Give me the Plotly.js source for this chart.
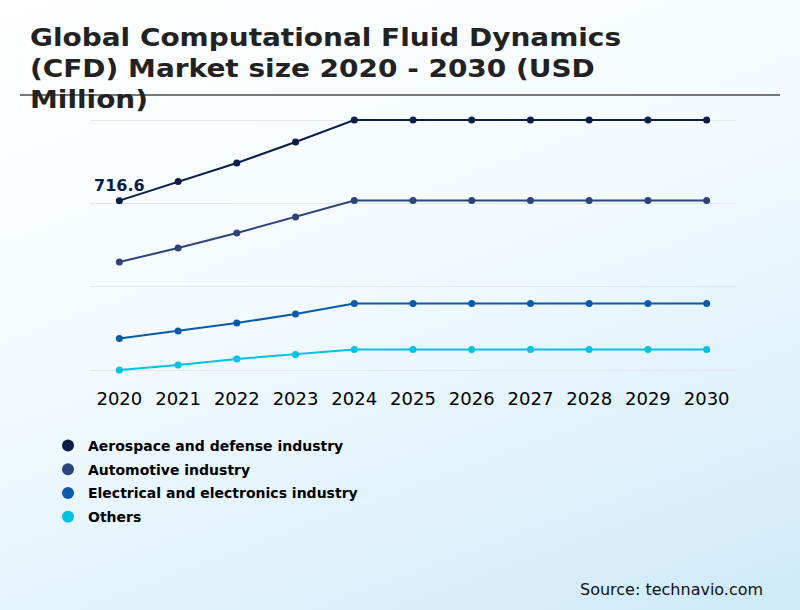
<!DOCTYPE html>
<html>
<head>
<meta charset="utf-8">
<script src="https://cdn.plot.ly/plotly-3.0.1.min.js"></script>
<style>
  html, body { margin: 0; padding: 0; }
  body { background: linear-gradient(160deg, #ffffff 0%, #f3fafe 45%, #cdeaf8 100%); }
  #chart { width: 800px; height: 610px; }
  /* the title glyphs in the picture are drawn wide */
  #chart .gtitle { transform: scaleX(1.165); transform-origin: 30px 0; }
</style>
</head>
<body>
<div id="chart"></div>
<script>
// values (USD million)
const years = [2020, 2021, 2022, 2023, 2024, 2025, 2026, 2027, 2028, 2029, 2030];
const aerospace  = [716.6, 774, 829.5, 892.5, 958.5, 958.5, 958.5, 958.5, 958.5, 958.5, 958.5];
const automotive = [532.5, 574.5, 619.5, 667.5, 717, 717, 717, 717, 717, 717, 717];
const electrical = [303, 325.5, 349.5, 376.5, 408, 408, 408, 408, 408, 408, 408];
const others     = [208.5, 223.5, 241.5, 255, 270, 270, 270, 270, 270, 270, 270];

const seriesNames  = ['Aerospace and defense industry', 'Automotive industry', 'Electrical and electronics industry', 'Others'];
const seriesValues = [aerospace, automotive, electrical, others];
const seriesColors = ['#0a1f48', '#2c4478', '#0b5aa8', '#00c2e3'];

const gridVals = [208.5, 458.5, 708.5, 958.5];

let traces = [];
// lines without legend entries
for (let i = 0; i < seriesNames.length; i++) {
    traces.push({
        type: 'scatter',
        mode: 'lines',
        x: years,
        y: seriesValues[i],
        line: { color: seriesColors[i], width: 2 },
        showlegend: false,
        legendgroup: 'g' + i,
        hoverinfo: 'skip',
        cliponaxis: false
    });
}
// markers, these carry the legend dots
for (let i = 0; i < seriesNames.length; i++) {
    traces.push({
        type: 'scatter',
        mode: 'markers',
        name: seriesNames[i],
        legendgroup: 'g' + i,
        x: years,
        y: seriesValues[i],
        marker: { color: seriesColors[i], size: 7 },
        cliponaxis: false
    });
}

const layout = {
    width: 800,
    height: 610,
    paper_bgcolor: 'rgba(0,0,0,0)',
    plot_bgcolor: 'rgba(0,0,0,0)',
    font: { family: 'DejaVu Sans', color: '#000000' },
    margin: { l: 90, r: 64, t: 118, b: 238, autoexpand: false },
    title: {
        text: 'Global Computational Fluid Dynamics<br>(CFD) Market size 2020 - 2030 (USD<br>Million)',
        font: { family: 'DejaVu Sans', size: 24, color: '#222222', weight: 'bold' },
        x: 30 / 800,
        xanchor: 'left',
        xref: 'container',
        y: 1 - 46 / 610,
        yanchor: 'top',
        yref: 'container'
    },
    xaxis: {
        range: [2019.5, 2030.5],
        tickvals: years,
        ticktext: years.map(String),
        tickangle: 0,
        showgrid: false,
        zeroline: false,
        showline: false,
        ticks: 'outside',
        ticklen: 10,
        tickcolor: 'rgba(0,0,0,0)',
        tickfont: { family: 'DejaVu Sans', size: 18, color: '#000000' }
    },
    yaxis: {
        range: [202.5, 964.5],
        tickvals: gridVals,
        showticklabels: false,
        showgrid: true,
        gridcolor: '#e4e8ec',
        gridwidth: 1,
        zeroline: false,
        showline: false
    },
    legend: {
        xref: 'container',
        yref: 'container',
        x: 48 / 800,
        xanchor: 'left',
        y: 1 - 430 / 610,
        yanchor: 'top',
        bgcolor: 'rgba(0,0,0,0)',
        font: { family: 'DejaVu Sans', size: 14, color: '#000000', weight: 'bold' },
        itemwidth: 30,
        itemsizing: 'constant',
        traceorder: 'grouped',
        tracegroupgap: 2.5
    },
    shapes: [{
        type: 'line',
        xref: 'paper',
        yref: 'paper',
        x0: (20 - 90) / 646,
        x1: (780 - 90) / 646,
        y0: (372 - 95) / 254,
        y1: (372 - 95) / 254,
        line: { color: '#777777', width: 2 },
        layer: 'above'
    }],
    annotations: [{
        x: years[0],
        y: aerospace[0],
        text: String(aerospace[0]),
        showarrow: false,
        yshift: 15,
        font: { family: 'DejaVu Sans', size: 16, color: '#0a1f48', weight: 'bold' }
    }, {
        xref: 'paper',
        yref: 'paper',
        x: (765 - 90) / 646,
        xanchor: 'right',
        y: (372 - 589) / 254,
        yanchor: 'middle',
        text: 'Source: technavio.com',
        showarrow: false,
        font: { family: 'DejaVu Sans', size: 16, color: '#111111' }
    }],
    hovermode: false
};

Plotly.newPlot('chart', traces, layout, { displayModeBar: false, staticPlot: true });
</script>
</body>
</html>
